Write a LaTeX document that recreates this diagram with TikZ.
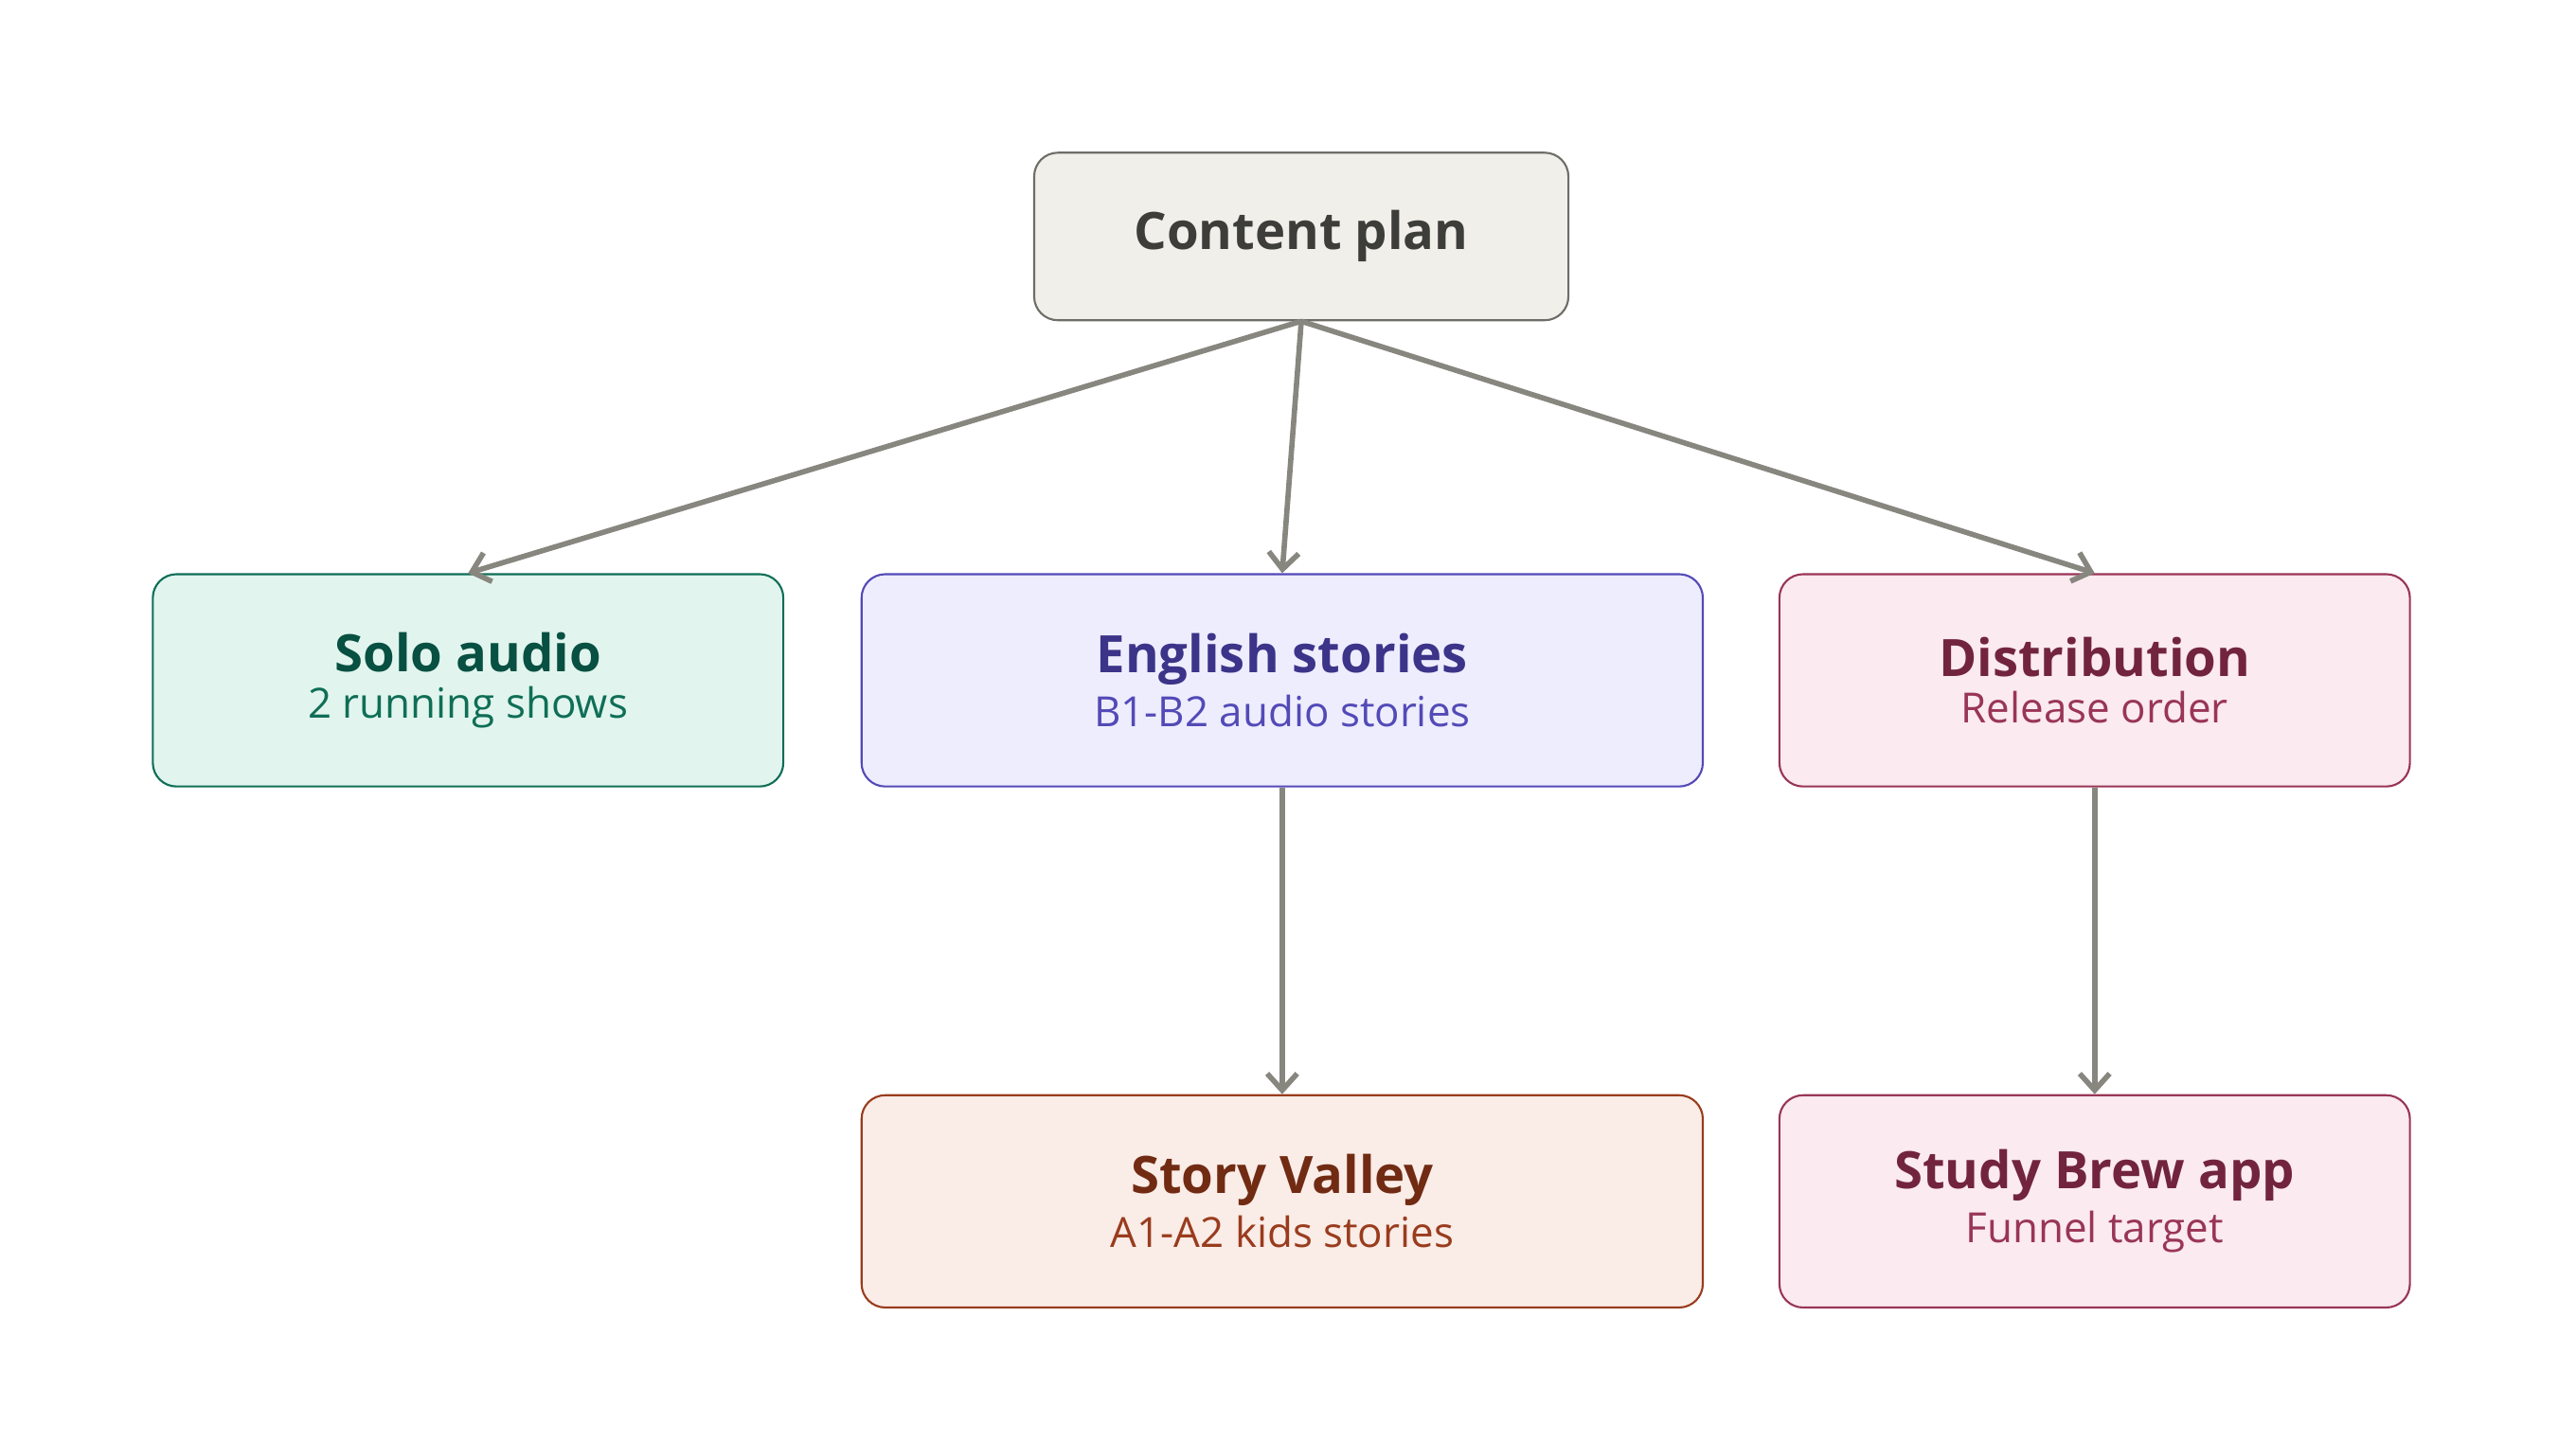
\documentclass[tikz,border=0pt]{standalone}
\usepackage{fontspec}
\setmainfont{Open Sans}
\usetikzlibrary{arrows.meta}
\definecolor{planfill}{HTML}{F1EFE9}\definecolor{planline}{HTML}{6E6D68}\definecolor{plantext}{HTML}{3D3D3A}
\definecolor{solofill}{HTML}{E1F5EE}\definecolor{sololine}{HTML}{0F6E56}\definecolor{solotext}{HTML}{085041}
\definecolor{engfill}{HTML}{EEEDFE}\definecolor{engline}{HTML}{534AB7}\definecolor{engtext}{HTML}{3C3489}
\definecolor{distfill}{HTML}{FBEAF0}\definecolor{distline}{HTML}{993556}\definecolor{disttext}{HTML}{72243E}
\definecolor{valfill}{HTML}{FAECE7}\definecolor{valline}{HTML}{993C1D}\definecolor{valtext}{HTML}{712B13}
\definecolor{arrowgray}{HTML}{87867F}
\begin{document}
\begin{tikzpicture}[x=0.017526cm,y=-0.017526cm,
  box/.style={draw, rounded corners=0.25cm, line width=0.6pt, minimum height=2.243cm, align=center, inner sep=0pt},
  link/.style={draw=arrowgray, line width=1.6pt, -{Straight Barb[length=5pt,width=9pt]}},
  head/.style={font=\fontsize{15.5}{19}\selectfont\bfseries},
  sub/.style={font=\fontsize{12.5}{15}\selectfont}]
  \useasboundingbox (0,0) rectangle (1552,868);
  % Nodes
  \node[box, fill=planfill, draw=planline, minimum width=5.643cm, minimum height=1.77cm, text=plantext,
        font=\fontsize{15.5}{19}\selectfont\bfseries] (plan) at (784,142.5) {Content plan};
  \node[box, fill=solofill, draw=sololine, minimum width=6.66cm] (solo) at (282,410)
    {\textcolor{solotext}{\fontsize{15.5}{19}\selectfont\bfseries Solo audio}\\[2pt]
     \textcolor{sololine}{\fontsize{12.5}{15}\selectfont 2 running shows}};
  \node[box, fill=engfill, draw=engline, minimum width=8.886cm] (eng) at (772.5,410)
    {\textcolor{engtext}{\fontsize{15.5}{19}\selectfont\bfseries English stories}\\[2pt]
     \textcolor{engline}{\fontsize{12.5}{15}\selectfont B1-B2 audio stories}};
  \node[box, fill=distfill, draw=distline, minimum width=6.66cm] (dist) at (1262,410)
    {\textcolor{disttext}{\fontsize{15.5}{19}\selectfont\bfseries Distribution}\\[2pt]
     \textcolor{distline}{\fontsize{12.5}{15}\selectfont Release order}};
  \node[box, fill=valfill, draw=valline, minimum width=8.886cm] (valley) at (772.5,724)
    {\textcolor{valtext}{\fontsize{15.5}{19}\selectfont\bfseries Story Valley}\\[2pt]
     \textcolor{valline}{\fontsize{12.5}{15}\selectfont A1-A2 kids stories}};
  \node[box, fill=distfill, draw=distline, minimum width=6.66cm] (brew) at (1262,724)
    {\textcolor{disttext}{\fontsize{15.5}{19}\selectfont\bfseries Study Brew app}\\[2pt]
     \textcolor{distline}{\fontsize{12.5}{15}\selectfont Funnel target}};

  % Connectors
  \draw[link] (plan.south) -- (solo.north);
  \draw[link] (plan.south) -- (eng.north);
  \draw[link] (plan.south) -- (dist.north);
  \draw[link] (eng.south) -- (valley.north);
  \draw[link] (dist.south) -- (brew.north);
\end{tikzpicture}
\end{document}
